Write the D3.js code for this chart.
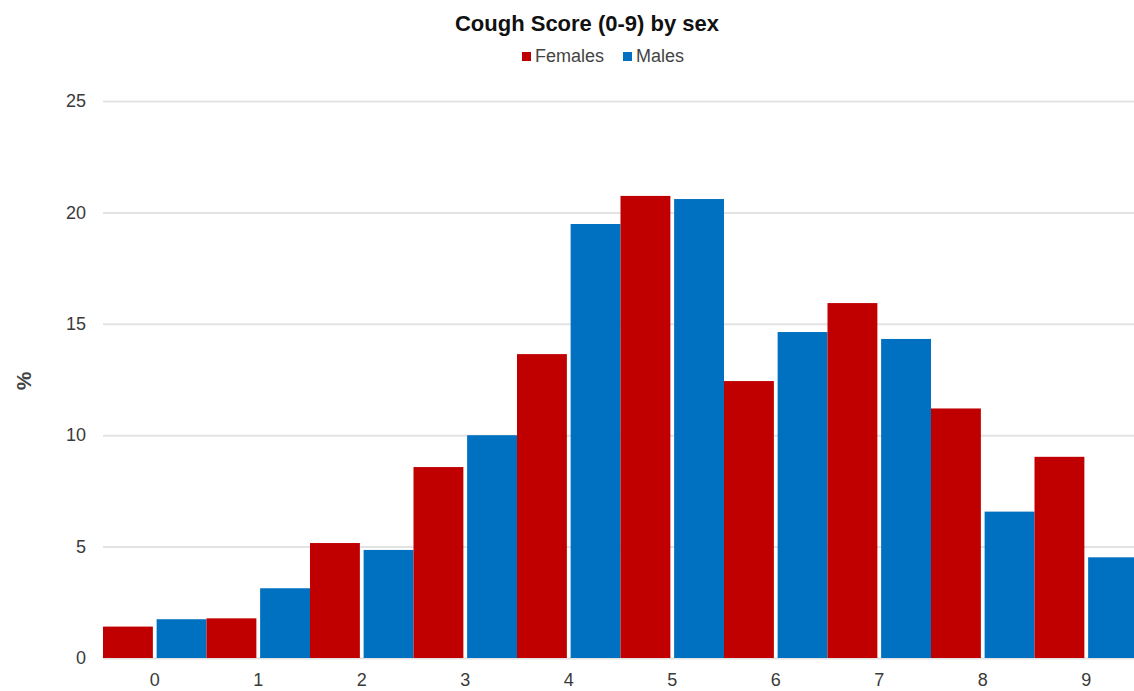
<!DOCTYPE html>
<html>
<head>
<meta charset="utf-8">
<script src="https://cdn.jsdelivr.net/npm/d3@7"></script>
<style>
  body { margin: 0; background: #fff; }
  svg { display: block; font-family: Arial, "Liberation Sans", sans-serif; }
</style>
</head>
<body>
<div id="root"><svg width="1134" height="691"></svg></div>
<script>
const scores = ['0', '1', '2', '3', '4', '5', '6', '7', '8', '9'];
const females = [1.41, 1.78, 5.16, 8.57, 13.64, 20.74, 12.43, 15.93, 11.2, 9.03];
const males = [1.74, 3.13, 4.85, 10.0, 19.48, 20.6, 14.63, 14.32, 6.57, 4.52];
const seriesNames = ['Females', 'Males'];
const seriesColors = ['#c00000', '#0070c0'];
const yTicks = [0, 5, 10, 15, 20, 25];

function drawChart() {
  const svg = d3.select('#root svg');
  const left = 103;
  const right = 1138;
  const top = 101;
  const bottom = 658;

  const xScale = d3.scaleBand().domain(scores).range([left, right]).padding(0);
  const subScale = d3.scaleBand().domain(seriesNames).range([0, xScale.bandwidth()]).paddingInner(0.07);
  const yScale = d3.scaleLinear().domain([0, 25]).range([bottom, top]);

  // grid + y labels
  const yAxis = d3.axisLeft(yScale)
    .tickValues(yTicks)
    .tickSize(-(1134 - left))
    .tickPadding(17);
  const yG = svg.append('g')
    .attr('transform', `translate(${left} 0)`)
    .call(yAxis);
  yG.select('.domain').remove();
  yG.selectAll('.tick line').attr('stroke', '#e3e3e3').attr('stroke-width', 2);
  yG.selectAll('.tick text')
    .attr('fill', '#3a3a3a')
    .attr('font-size', '18px')
    .attr('font-family', 'Arial, "Liberation Sans", sans-serif');

  // x labels
  const xAxis = d3.axisBottom(xScale).tickSize(0).tickPadding(15);
  const xG = svg.append('g')
    .attr('transform', `translate(0 ${bottom})`)
    .call(xAxis);
  xG.select('.domain').remove();
  xG.selectAll('.tick text')
    .attr('fill', '#3a3a3a')
    .attr('font-size', '18px')
    .attr('font-family', 'Arial, "Liberation Sans", sans-serif');

  const rows = scores.map((s, i) => ({ score: s, values: [females[i], males[i]] }));

  const groups = svg.selectAll('g.grp').data(rows).enter()
    .append('g')
    .attr('class', 'grp')
    .attr('transform', (d) => `translate(${xScale(d.score)} 0)`);

  groups.selectAll('rect')
    .data((d) => d.values.map((v, j) => ({ name: seriesNames[j], value: v, color: seriesColors[j] })))
    .enter()
    .append('rect')
    .attr('x', (d) => subScale(d.name))
    .attr('y', (d) => yScale(d.value))
    .attr('width', subScale.bandwidth())
    .attr('height', (d) => bottom - yScale(d.value))
    .attr('fill', (d) => d.color);

  // title
  svg.append('text')
    .attr('x', 587)
    .attr('y', 31)
    .attr('text-anchor', 'middle')
    .attr('font-size', '22px')
    .attr('font-weight', 'bold')
    .attr('fill', '#111')
    .text('Cough Score (0-9) by sex');

  // legend
  const legendX = [522, 623];
  seriesNames.forEach((name, i) => {
    const lg = svg.append('g').attr('transform', `translate(${legendX[i]} 56)`);
    lg.append('rect')
      .attr('x', 0)
      .attr('y', -4)
      .attr('width', 9)
      .attr('height', 9)
      .attr('fill', seriesColors[i]);
    lg.append('text')
      .attr('x', 13)
      .attr('y', 6)
      .attr('font-size', '18px')
      .attr('fill', '#444')
      .text(name);
  });

  // y axis title
  svg.append('text')
    .attr('transform', 'translate(31 381) rotate(-90)')
    .attr('text-anchor', 'middle')
    .attr('font-size', '21px')
    .attr('font-weight', 'bold')
    .attr('fill', '#444')
    .text('%');
}

window.addEventListener('load', function() {
  drawChart();
});
</script>
</body>
</html>
